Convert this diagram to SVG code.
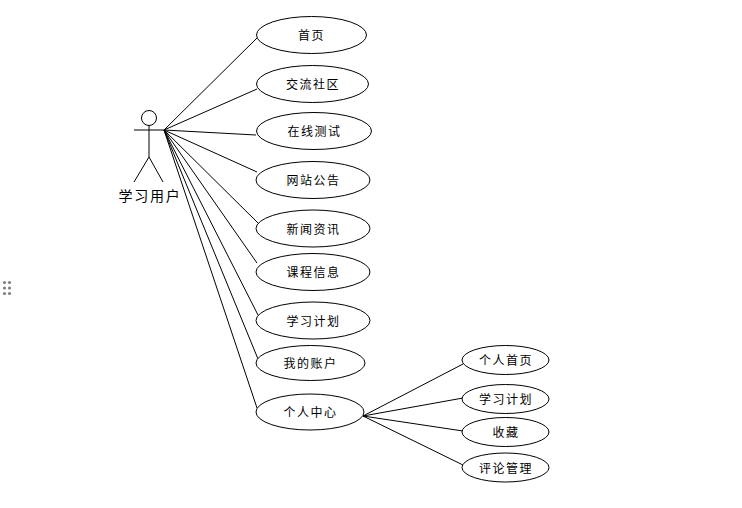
<svg xmlns="http://www.w3.org/2000/svg" width="742" height="508" viewBox="0 0 742 508">
<style>
.b{fill:#fff;stroke:#000;stroke-width:1}
.l{fill:none;stroke:#000;stroke-width:1}
.t{font-family:"Noto Sans CJK SC","Liberation Sans",sans-serif;font-size:12px;font-weight:400;letter-spacing:1.5px;text-anchor:middle;fill:#000}
.d{fill:#808080}
</style>
<rect width="742" height="508" fill="#fff"/>
<g id="handle">
<circle class="d" cx="4.500" cy="282.500" r="1.600"/><circle class="d" cx="9.500" cy="282.500" r="1.600"/>
<circle class="d" cx="4.500" cy="288" r="1.600"/><circle class="d" cx="9.500" cy="288" r="1.600"/>
<circle class="d" cx="4.500" cy="293.500" r="1.600"/><circle class="d" cx="9.500" cy="293.500" r="1.600"/>
</g>
<g id="connectors" class="l">
<path d="M164 130L257 38"/>
<path d="M164 130L257 89"/>
<path d="M164 130L256 135"/>
<path d="M164 130L257 172"/>
<path d="M164 130L258 223"/>
<path d="M164 130L257 263"/>
<path d="M164 130L258 315"/>
<path d="M164 130L258 359"/>
<path d="M164 130L257 408"/>
<path d="M363 416L463 364"/>
<path d="M363 416L463 398"/>
<path d="M363 416L463 431"/>
<path d="M363 416L463 465"/>
</g>
<g id="actor" class="l">
<circle cx="149" cy="118" r="7.500"/>
<path d="M149 125.500V157M134 130H164M149 157L134 182M149 157L163 182"/>
<text class="t" x="150" y="201" style="font-size:14px;letter-spacing:1.800px;stroke:none">学习用户</text>
</g>
<g id="n1"><ellipse class="b" cx="311.500" cy="35" rx="55" ry="18.500"/><text class="t" x="311.500" y="39.500">首页</text></g>
<g id="n2"><ellipse class="b" cx="312.500" cy="84" rx="56" ry="18.500"/><text class="t" x="313" y="88.500">交流社区</text></g>
<g id="n3"><ellipse class="b" cx="314" cy="131" rx="57.500" ry="18.500"/><text class="t" x="314.500" y="135.500">在线测试</text></g>
<g id="n4"><ellipse class="b" cx="313" cy="180" rx="57" ry="18.500"/><text class="t" x="313.500" y="184.500">网站公告</text></g>
<g id="n5"><ellipse class="b" cx="313" cy="228.500" rx="57" ry="18.500"/><text class="t" x="313.500" y="233.500">新闻资讯</text></g>
<g id="n6"><ellipse class="b" cx="313" cy="272" rx="57" ry="18.500"/><text class="t" x="313.500" y="276.500">课程信息</text></g>
<g id="n7"><ellipse class="b" cx="313" cy="320.500" rx="57" ry="18.500"/><text class="t" x="313.500" y="325.500">学习计划</text></g>
<g id="n8"><ellipse class="b" cx="310.500" cy="363" rx="54.500" ry="17.500"/><text class="t" x="310.500" y="367.500">我的账户</text></g>
<g id="n9"><ellipse class="b" cx="310" cy="412" rx="54" ry="18"/><text class="t" x="310.500" y="416.500">个人中心</text></g>
<g id="n10"><ellipse class="b" cx="505.500" cy="360" rx="43.500" ry="14.500"/><text class="t" x="506" y="364.500">个人首页</text></g>
<g id="n11"><ellipse class="b" cx="505.500" cy="399" rx="43.500" ry="14.500"/><text class="t" x="506" y="403.500">学习计划</text></g>
<g id="n12"><ellipse class="b" cx="505.500" cy="432" rx="43.500" ry="14.500"/><text class="t" x="506" y="436.500">收藏</text></g>
<g id="n13"><ellipse class="b" cx="505.500" cy="467.500" rx="43.500" ry="14.500"/><text class="t" x="506" y="472.500">评论管理</text></g>
</svg>
